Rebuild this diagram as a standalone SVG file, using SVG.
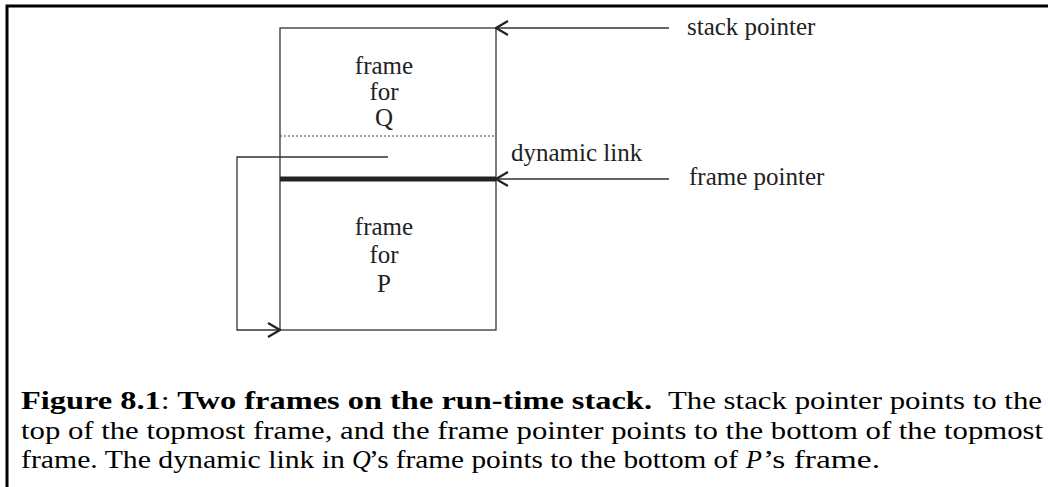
<svg xmlns="http://www.w3.org/2000/svg" width="1048" height="487" viewBox="0 0 1048 487">
  <style>
    .lbl { font-family: "Liberation Serif", "Times New Roman", serif; font-size: 25px; fill: #222; }
    .cap { font-family: "Liberation Serif", "Times New Roman", serif; font-size: 26px; fill: #000; }
    .b { font-weight: bold; }
    .i { font-style: italic; }
    .ln { fill: none; stroke: #333; stroke-width: 1.3; }
  </style>
  <defs>
    <marker id="chev" viewBox="0 0 14 16" refX="13" refY="8" markerWidth="14" markerHeight="16" markerUnits="userSpaceOnUse" orient="auto">
      <path d="M1,1 L13,8 L1,15" fill="none" stroke="#222" stroke-width="2.2"/>
    </marker>
  </defs>
  <rect width="1048" height="487" fill="#fff"/>
  <!-- page border -->
  <path d="M7,487 V6 H1048" fill="none" stroke="#000" stroke-width="3"/>

  <g id="stack">
    <rect x="280" y="28" width="216" height="302" class="ln"/>
    <line x1="280" y1="136" x2="496" y2="136" stroke="#444" stroke-width="1" stroke-dasharray="2,2"/>
    <line x1="280" y1="179" x2="496" y2="179" stroke="#222" stroke-width="5"/>
  </g>
  <g id="frameQ">
    <text class="lbl" x="384" y="74" text-anchor="middle">frame</text>
    <text class="lbl" x="384" y="100" text-anchor="middle">for</text>
    <text class="lbl" x="384" y="126" text-anchor="middle">Q</text>
  </g>
  <g id="frameP">
    <text class="lbl" x="384" y="235" text-anchor="middle">frame</text>
    <text class="lbl" x="384" y="263" text-anchor="middle">for</text>
    <text class="lbl" x="384" y="292" text-anchor="middle">P</text>
  </g>
  <g id="labels">
    <text class="lbl" x="687" y="35">stack pointer</text>
    <text class="lbl" x="511" y="161">dynamic link</text>
    <text class="lbl" x="689" y="185">frame pointer</text>
  </g>
  <g id="connectors">
    <path d="M669,28 H496" class="ln" marker-end="url(#chev)"/>
    <path d="M669,179 H496" class="ln" marker-end="url(#chev)"/>
    <path d="M388,157 H237 V330 H280" class="ln" marker-end="url(#chev)"/>
  </g>
  <g id="caption">
    <text class="cap b" x="21" y="409" textLength="631" lengthAdjust="spacingAndGlyphs">Figure 8.1<tspan font-weight="normal">:</tspan> Two frames on the run-time stack.</text>
    <text class="cap" x="668" y="409" textLength="374" lengthAdjust="spacingAndGlyphs">The stack pointer points to the</text>
    <text class="cap" x="21" y="439" textLength="1022" lengthAdjust="spacingAndGlyphs">top of the topmost frame, and the frame pointer points to the bottom of the topmost</text>
    <text class="cap" x="21" y="468" textLength="324" lengthAdjust="spacingAndGlyphs">frame. The dynamic link in</text>
    <text class="cap i" x="352" y="468">Q</text>
    <text class="cap" x="369" y="468" textLength="369" lengthAdjust="spacingAndGlyphs">’s frame points to the bottom of</text>
    <text class="cap i" x="746" y="468">P</text>
    <text class="cap" x="763" y="468" textLength="117" lengthAdjust="spacingAndGlyphs">’s frame.</text>
  </g>
</svg>
